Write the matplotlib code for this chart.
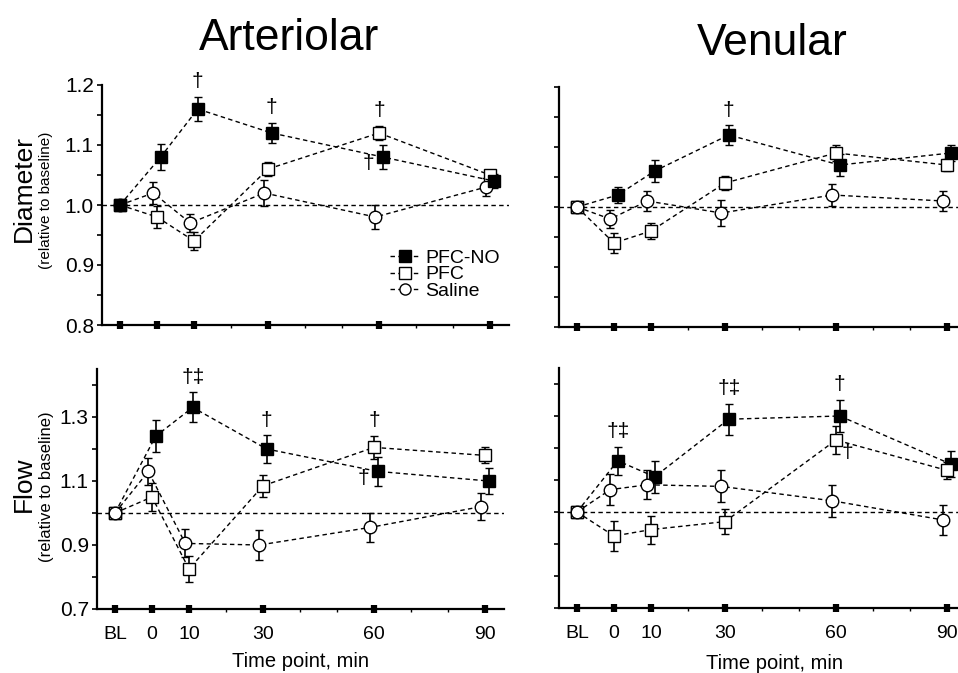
"""Arteriolar / venular diameter and flow relative to baseline, four panels."""

import matplotlib
matplotlib.use("Agg")
import matplotlib.pyplot as plt
from matplotlib.lines import Line2D
from matplotlib.ticker import FixedLocator, MultipleLocator, FormatStrFormatter

plt.rcParams['font.family'] = ['Liberation Sans', 'DejaVu Sans']

W, H = 958, 673

# time points, BL drawn 10 min before time 0
TIMES = [-10, 0, 10, 30, 60, 90]
TIME_LABELS = ['BL', '0', '10', '30', '60', '90']
MINOR_TIMES = [20, 40, 50, 70, 80]
SERIES = ['PFC-NO', 'PFC', 'Saline']

# arteriolar diameter
art_diam_pfcno = [1.00, 1.08, 1.16, 1.12, 1.08, 1.04]
art_diam_pfcno_err = [0, 0.022, 0.020, 0.017, 0.020, 0.012]
art_diam_pfc = [1.00, 0.98, 0.94, 1.06, 1.12, 1.05]
art_diam_pfc_err = [0, 0.018, 0.015, 0.012, 0.012, 0.008]
art_diam_sal = [1.00, 1.02, 0.97, 1.02, 0.98, 1.03]
art_diam_sal_err = [0, 0.018, 0.015, 0.022, 0.020, 0.015]

# venular diameter
ven_diam_pfcno = [1.00, 1.02, 1.06, 1.12, 1.07, 1.09]
ven_diam_pfcno_err = [0, 0.014, 0.018, 0.016, 0.018, 0.014]
ven_diam_pfc = [1.00, 0.94, 0.96, 1.04, 1.09, 1.07]
ven_diam_pfc_err = [0, 0.016, 0.013, 0.011, 0.014, 0.010]
ven_diam_sal = [1.00, 0.98, 1.01, 0.99, 1.02, 1.01]
ven_diam_sal_err = [0, 0.015, 0.016, 0.021, 0.019, 0.016]

# arteriolar flow
art_flow_pfcno = [1.00, 1.24, 1.33, 1.20, 1.13, 1.10]
art_flow_pfcno_err = [0, 0.050, 0.047, 0.043, 0.045, 0.040]
art_flow_pfc = [1.00, 1.05, 0.825, 1.085, 1.205, 1.18]
art_flow_pfc_err = [0, 0.045, 0.040, 0.035, 0.037, 0.025]
art_flow_sal = [1.00, 1.13, 0.905, 0.90, 0.955, 1.02]
art_flow_sal_err = [0, 0.043, 0.044, 0.048, 0.046, 0.043]

# venular flow
ven_flow_pfcno = [1.00, 1.16, 1.11, 1.29, 1.30, 1.15]
ven_flow_pfcno_err = [0, 0.044, 0.050, 0.048, 0.051, 0.041]
ven_flow_pfc = [1.00, 0.925, 0.945, 0.97, 1.225, 1.13]
ven_flow_pfc_err = [0, 0.047, 0.044, 0.038, 0.043, 0.026]
ven_flow_sal = [1.00, 1.07, 1.085, 1.08, 1.035, 0.975]
ven_flow_sal_err = [0, 0.048, 0.045, 0.050, 0.050, 0.048]

# significance marks: (time, series, text, where)
art_diam_marks = [(10, 'PFC-NO', '†', 'above'), (30, 'PFC-NO', '†', 'above'),
                  (60, 'PFC', '†', 'above'), (60, 'PFC-NO', '†', 'left')]
ven_diam_marks = [(30, 'PFC-NO', '†', 'above')]
art_flow_marks = [(10, 'PFC-NO', '†‡', 'above'), (30, 'PFC-NO', '†', 'above'),
                  (60, 'PFC', '†', 'above'), (60, 'PFC-NO', '†', 'left')]
ven_flow_marks = [(0, 'PFC-NO', '†‡', 'above'), (30, 'PFC-NO', '†‡', 'above'),
                  (60, 'PFC-NO', '†', 'above'), (60, 'PFC', '†', 'right')]

STYLE = {
    'PFC-NO': dict(marker='s', mfc='black', shift=1.0),
    'PFC': dict(marker='s', mfc='white', shift=0.0),
    'Saline': dict(marker='o', mfc='white', shift=-1.0),
}
DASH = (0, (3.2, 2.4))
MARK_OFFSET = {'above': (0, 4), 'left': (-10, -5), 'right': (8, -9)}

fig = plt.figure(figsize=(W / 100, H / 100), dpi=100)


def px_axes(left, top, width, height):
    return fig.add_axes([left / W, 1 - (top + height) / H, width / W, height / H])


def draw_panel(ax, data, marks, order, ylim, major, minor, xlabels, ylabels):
    ax.set_xlim(-15, 95)
    ax.set_ylim(*ylim)
    ax.axhline(1.0, color='black', lw=1.0, ls=DASH, zorder=1)

    pos = {}
    for name in order:
        mean, err = data[name]
        st = STYLE[name]
        xs = [t if t < 0 else t + st['shift'] for t in TIMES]
        pos[name] = (xs, mean, err)
        ax.errorbar(xs, mean, yerr=err, color='black', ls=DASH, lw=1.0,
                    marker=st['marker'], ms=9, mfc=st['mfc'], mec='black', mew=1.0,
                    ecolor='black', elinewidth=1.2, capsize=3.2, capthick=1.2,
                    zorder=3)

    for t, name, text, where in marks:
        xs, mean, err = pos[name]
        i = TIMES.index(t)
        y = mean[i] + err[i] if where == 'above' else mean[i]
        ax.annotate(text, (xs[i], y), xytext=MARK_OFFSET[where],
                    textcoords='offset points', ha='center',
                    va='bottom' if where == 'above' else 'center', fontsize=15)

    for side in ['top', 'right']:
        ax.spines[side].set_visible(False)
    for side in ['left', 'bottom']:
        ax.spines[side].set_linewidth(1.6)

    ax.xaxis.set_major_locator(FixedLocator(TIMES))
    ax.xaxis.set_minor_locator(FixedLocator(MINOR_TIMES))
    ax.set_xticklabels(TIME_LABELS if xlabels else [])
    ax.tick_params(axis='x', which='major', direction='inout', length=6, width=4.5,
                   pad=9.5, labelsize=14)
    ax.tick_params(axis='x', which='minor', direction='out', length=2.5, width=1)

    ax.yaxis.set_major_locator(major)
    ax.yaxis.set_minor_locator(minor)
    ax.yaxis.set_major_formatter(FormatStrFormatter('%.1f'))
    ax.tick_params(axis='y', which='both', direction='out', length=3.5, width=1.2,
                   pad=2, labelsize=15, labelleft=ylabels)


top_order_art = ['Saline', 'PFC', 'PFC-NO']
order = ['PFC-NO', 'PFC', 'Saline']

ax1 = px_axes(101.5, 85, 407, 240)
draw_panel(ax1, {'PFC-NO': (art_diam_pfcno, art_diam_pfcno_err),
                 'PFC': (art_diam_pfc, art_diam_pfc_err),
                 'Saline': (art_diam_sal, art_diam_sal_err)},
           art_diam_marks, top_order_art, (0.8, 1.2),
           MultipleLocator(0.1), MultipleLocator(0.05), False, True)

ax2 = px_axes(558.5, 87, 407, 240)
draw_panel(ax2, {'PFC-NO': (ven_diam_pfcno, ven_diam_pfcno_err),
                 'PFC': (ven_diam_pfc, ven_diam_pfc_err),
                 'Saline': (ven_diam_sal, ven_diam_sal_err)},
           ven_diam_marks, order, (0.8, 1.2),
           MultipleLocator(0.1), MultipleLocator(0.05), False, False)

ax3 = px_axes(96.5, 369, 407, 240)
draw_panel(ax3, {'PFC-NO': (art_flow_pfcno, art_flow_pfcno_err),
                 'PFC': (art_flow_pfc, art_flow_pfc_err),
                 'Saline': (art_flow_sal, art_flow_sal_err)},
           art_flow_marks, order, (0.7, 1.45),
           FixedLocator([0.7, 0.9, 1.1, 1.3]), FixedLocator([0.8, 1.0, 1.2, 1.4]),
           True, True)

ax4 = px_axes(558.5, 368, 407, 240)
draw_panel(ax4, {'PFC-NO': (ven_flow_pfcno, ven_flow_pfcno_err),
                 'PFC': (ven_flow_pfc, ven_flow_pfc_err),
                 'Saline': (ven_flow_sal, ven_flow_sal_err)},
           ven_flow_marks, order, (0.7, 1.45),
           FixedLocator([0.7, 0.9, 1.1, 1.3]), FixedLocator([0.8, 1.0, 1.2, 1.4]),
           True, False)

# legend in the arteriolar diameter panel
handles = [Line2D([], [], color='black', ls=DASH, lw=1.0, marker=STYLE[n]['marker'],
                  ms=8, mfc=STYLE[n]['mfc'], mec='black') for n in SERIES]
ax1.legend(handles, SERIES, loc='center left', bbox_to_anchor=(0.71, 0.21),
           frameon=False, fontsize=14, handlelength=1.5, handletextpad=0.3,
           labelspacing=-0.05, borderpad=0, borderaxespad=0)

# titles and axis labels
fig.text(289 / W, 1 - 50 / H, 'Arteriolar', ha='center', va='baseline', fontsize=32)
fig.text(772 / W, 1 - 55 / H, 'Venular', ha='center', va='baseline', fontsize=32)

fig.text(24 / W, 1 - 189 / H, 'Diameter', rotation=90, ha='center', va='center', fontsize=19)
fig.text(46 / W, 1 - 200 / H, '(relative to baseline)', rotation=90, ha='center',
         va='center', fontsize=11)
fig.text(24 / W, 1 - 484 / H, 'Flow', rotation=90, ha='center', va='center', fontsize=19)
fig.text(47 / W, 1 - 487 / H, '(relative to baseline)', rotation=90, ha='center',
         va='center', fontsize=12)

fig.text(300 / W, 1 - 667 / H, 'Time point, min', ha='center', va='baseline', fontsize=14.5)
fig.text(775 / W, 1 - 669 / H, 'Time point, min', ha='center', va='baseline', fontsize=14.5)

fig.savefig('out.png', dpi=100)
